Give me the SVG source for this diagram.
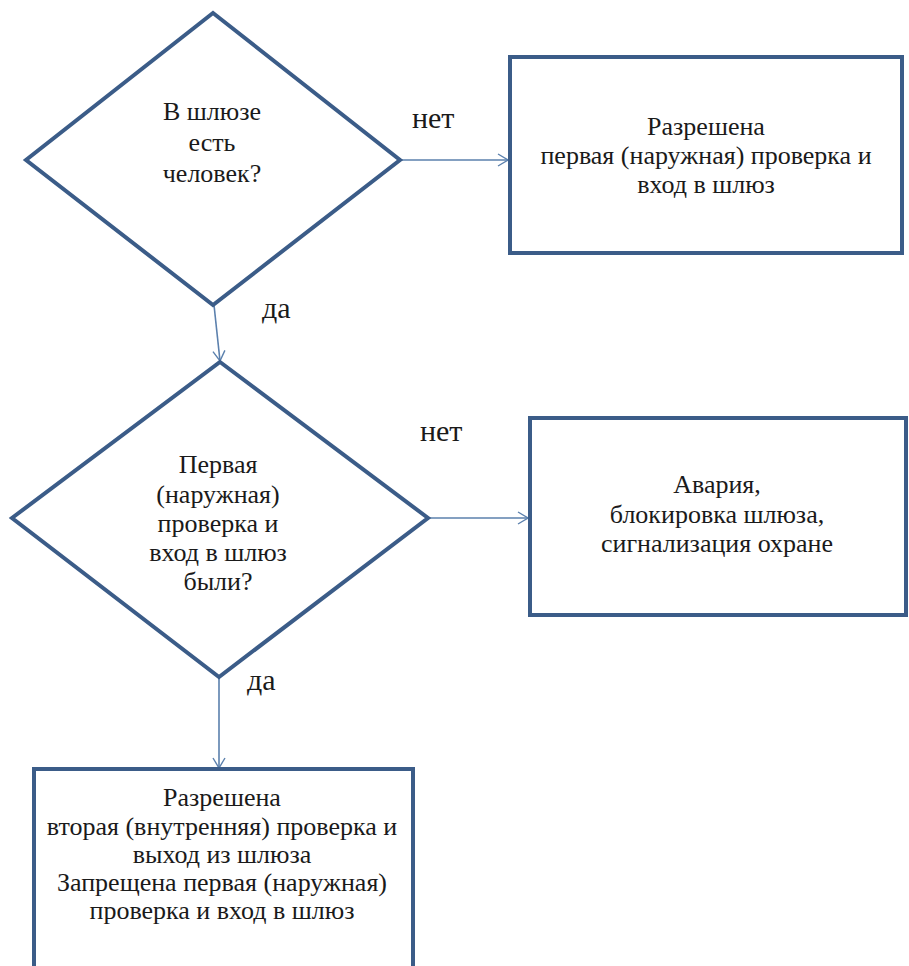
<svg xmlns="http://www.w3.org/2000/svg" width="909" height="966" viewBox="0 0 909 966">
  <defs>
    <style>
      .shape { fill: #ffffff; stroke: #3b5c88; stroke-width: 4; stroke-linejoin: miter; }
      .conn { fill: none; stroke: #5b80ad; stroke-width: 1.6; }
      .txt { font-size: 26px; fill: #1a1a1a; text-anchor: middle; }
      .lbl { font-size: 30px; fill: #1a1a1a; }
    </style>
    <marker id="arrow" viewBox="0 0 12 14" refX="11" refY="7" markerWidth="12" markerHeight="14" markerUnits="userSpaceOnUse" orient="auto">
      <path d="M1,1 L11,7 L1,13" fill="none" stroke="#5b80ad" stroke-width="1.4"/>
    </marker>
  </defs>
  <rect width="909" height="966" fill="#ffffff"/>

  <g id="connectors">
    <line class="conn" x1="400" y1="160" x2="508" y2="160" marker-end="url(#arrow)"/>
    <line class="conn" x1="214" y1="305" x2="220" y2="361" marker-end="url(#arrow)"/>
    <line class="conn" x1="428" y1="518" x2="528" y2="518" marker-end="url(#arrow)"/>
    <line class="conn" x1="219" y1="677" x2="219" y2="768" marker-end="url(#arrow)"/>
  </g>

  <g font-family="Liberation Serif, DejaVu Serif, serif">
  <g id="decision1">
    <polygon class="shape" points="213,13 400,160 213,305 26,160"/>
    <text class="txt" x="212" y="120">В шлюзе</text>
    <text class="txt" x="212" y="151">есть</text>
    <text class="txt" x="212" y="182">человек?</text>
  </g>

  <g id="process1">
    <rect class="shape" x="510" y="57" width="392" height="196"/>
    <text class="txt" x="706" y="135">Разрешена</text>
    <text class="txt" x="706" y="164">первая (наружная) проверка и</text>
    <text class="txt" x="706" y="193">вход в шлюз</text>
  </g>

  <g id="decision2">
    <polygon class="shape" points="220,362 428,518 219,677 12,518"/>
    <text class="txt" x="218" y="473">Первая</text>
    <text class="txt" x="218" y="503">(наружная)</text>
    <text class="txt" x="218" y="532">проверка и</text>
    <text class="txt" x="218" y="561">вход в шлюз</text>
    <text class="txt" x="218" y="590">были?</text>
  </g>

  <g id="process2">
    <rect class="shape" x="530" y="418" width="376" height="197"/>
    <text class="txt" x="717" y="493">Авария,</text>
    <text class="txt" x="717" y="523">блокировка шлюза,</text>
    <text class="txt" x="717" y="552">сигнализация охране</text>
  </g>

  <g id="process3">
    <rect class="shape" x="34" y="769" width="379" height="210"/>
    <text class="txt" x="222" y="806">Разрешена</text>
    <text class="txt" x="222" y="835">вторая (внутренняя) проверка и</text>
    <text class="txt" x="222" y="863">выход из шлюза</text>
    <text class="txt" x="222" y="891">Запрещена первая (наружная)</text>
    <text class="txt" x="222" y="919">проверка и вход в шлюз</text>
  </g>

  <g id="labels">
    <text class="lbl" x="412" y="128">нет</text>
    <text class="lbl" x="262" y="318">да</text>
    <text class="lbl" x="420" y="441">нет</text>
    <text class="lbl" x="247" y="690">да</text>
  </g>
  </g>
</svg>
